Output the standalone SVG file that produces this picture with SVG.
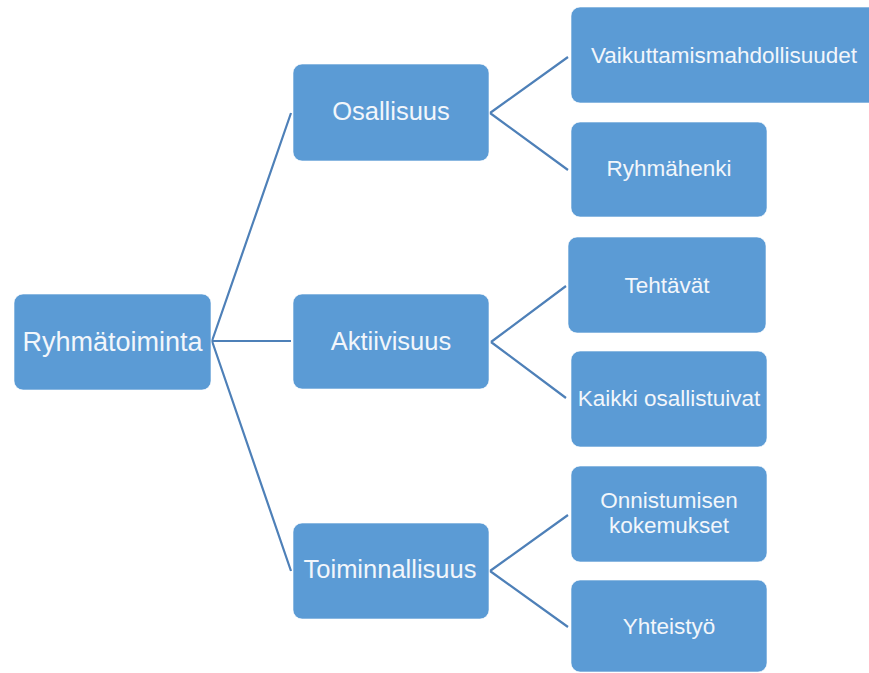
<svg xmlns="http://www.w3.org/2000/svg" width="869" height="673" viewBox="0 0 869 673">
<style>
.box{fill:#5B9BD5;stroke:#ffffff;stroke-opacity:0.6;stroke-width:1}
.t{font-family:"Liberation Sans",Arial,sans-serif;fill:#F2F6FB;text-anchor:middle}
.l1{font-size:27px}
.l2{font-size:25.5px}
.l3{font-size:22.5px}
.c{stroke:#4E80B8;stroke-width:2.2;fill:none}
</style>
<rect width="869" height="673" fill="#ffffff"/>
<g id="connectors">
<path class="c" d="M212,341 L291,113 M212,341 L291,341 M212,341 L291,571"/>
<path class="c" d="M490,113 L568,57 M490,113 L568,170"/>
<path class="c" d="M491,342 L566,286 M491,342 L566,398"/>
<path class="c" d="M490,571 L568,515 M490,571 L568,627"/>
</g>
<g id="n-ryhmatoiminta"><rect class="box" x="14" y="294" width="197" height="96" rx="9"/><text class="t l1" x="112.5" y="351">Ryhmätoiminta</text></g>
<g id="n-osallisuus"><rect class="box" x="293" y="64" width="196" height="97" rx="9"/><text class="t l2" x="391" y="120">Osallisuus</text></g>
<g id="n-aktiivisuus"><rect class="box" x="293" y="294" width="196" height="95" rx="9"/><text class="t l2" x="391" y="350">Aktiivisuus</text></g>
<g id="n-toiminnallisuus"><rect class="box" x="293" y="523" width="196" height="96" rx="9"/><text class="t l2" x="390" y="578">Toiminnallisuus</text></g>
<g id="n-vaikuttamis"><rect class="box" x="571" y="7" width="310" height="96" rx="9"/><text class="t l3" x="724" y="63">Vaikuttamismahdollisuudet</text></g>
<g id="n-ryhmahenki"><rect class="box" x="571" y="122" width="196" height="95" rx="9"/><text class="t l3" x="669" y="176">Ryhmähenki</text></g>
<g id="n-tehtavat"><rect class="box" x="568" y="237" width="198" height="96" rx="9"/><text class="t l3" x="667" y="293">Tehtävät</text></g>
<g id="n-kaikki"><rect class="box" x="571" y="351" width="196" height="96" rx="9"/><text class="t l3" x="669" y="406">Kaikki osallistuivat</text></g>
<g id="n-onnistumisen"><rect class="box" x="571" y="466" width="196" height="96" rx="9"/><text class="t l3" x="669" y="508">Onnistumisen</text><text class="t l3" x="669" y="533">kokemukset</text></g>
<g id="n-yhteistyo"><rect class="box" x="571" y="580" width="196" height="92" rx="9"/><text class="t l3" x="669" y="634">Yhteistyö</text></g>
</svg>
